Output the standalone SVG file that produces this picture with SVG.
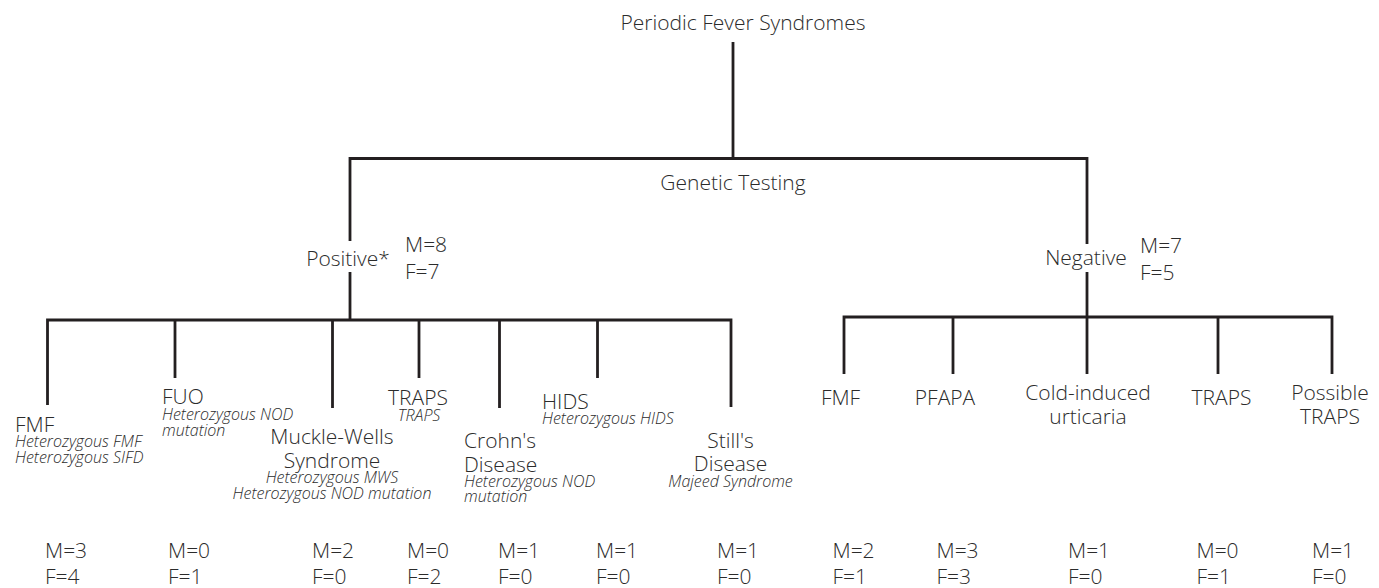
<svg xmlns="http://www.w3.org/2000/svg" width="1379" height="588" viewBox="0 0 1379 588">
<style>
.c{fill:none;stroke:#231f20;stroke-width:2.8;stroke-linejoin:miter}
text{font-family:"Open Sans","Liberation Sans",sans-serif;font-weight:300;fill:#2b2b2b}
.m{font-size:21px}
.i{font-size:16px;font-style:italic}
.mid{text-anchor:middle}
</style>
<rect width="1379" height="588" fill="#ffffff"/>
<g id="connectors">
<path class="c" d="M733 42V158.5"/>
<path class="c" d="M350 241V158.5H1087V244"/>
<path class="c" d="M350 272V320"/>
<path class="c" d="M1087 272V374"/>
<path class="c" d="M47.5 405V320H731V407"/>
<path class="c" d="M175 320V378"/>
<path class="c" d="M332.5 320V408"/>
<path class="c" d="M419 320V378"/>
<path class="c" d="M499.5 320V408"/>
<path class="c" d="M597.5 320V378"/>
<path class="c" d="M844 374V317H1332V374"/>
<path class="c" d="M953 317V374"/>
<path class="c" d="M1218 317V374"/>
</g>
<g id="root"><text class="m mid" x="743" y="30">Periodic Fever Syndromes</text></g>
<g id="genetic-testing"><text class="m mid" x="733" y="190">Genetic Testing</text></g>
<g id="positive">
<text class="m mid" x="348" y="265.5">Positive*</text>
<text class="m" x="405" y="251.5">M=8</text>
<text class="m" x="405" y="279">F=7</text>
</g>
<g id="negative">
<text class="m mid" x="1086" y="265">Negative</text>
<text class="m" x="1140" y="253">M=7</text>
<text class="m" x="1140" y="280">F=5</text>
</g>
<g id="pos-fmf">
<text class="m" x="15" y="431.5">FMF</text>
<text class="i" x="15" y="447">Heterozygous FMF</text>
<text class="i" x="15" y="463">Heterozygous SIFD</text>
<text class="m" x="45" y="558">M=3</text>
<text class="m" x="45" y="584">F=4</text>
</g>
<g id="pos-fuo">
<text class="m" x="162" y="404">FUO</text>
<text class="i" x="162" y="420">Heterozygous NOD</text>
<text class="i" x="162" y="435.5">mutation</text>
<text class="m" x="168" y="558">M=0</text>
<text class="m" x="168" y="584">F=1</text>
</g>
<g id="pos-mws">
<text class="m mid" x="332" y="444">Muckle-Wells</text>
<text class="m mid" x="332" y="467.5">Syndrome</text>
<text class="i mid" x="332" y="483">Heterozygous MWS</text>
<text class="i mid" x="332" y="499">Heterozygous NOD mutation</text>
<text class="m" x="312" y="558">M=2</text>
<text class="m" x="312" y="584">F=0</text>
</g>
<g id="pos-traps">
<text class="m mid" x="418" y="405">TRAPS</text>
<text class="i mid" x="419" y="420.5">TRAPS</text>
<text class="m" x="407" y="558">M=0</text>
<text class="m" x="407" y="584">F=2</text>
</g>
<g id="pos-crohns">
<text class="m" x="464" y="448">Crohn's</text>
<text class="m" x="464" y="471.5">Disease</text>
<text class="i" x="464" y="486.5">Heterozygous NOD</text>
<text class="i" x="464" y="502">mutation</text>
<text class="m" x="498" y="558">M=1</text>
<text class="m" x="498" y="584">F=0</text>
</g>
<g id="pos-hids">
<text class="m" x="542" y="408.5">HIDS</text>
<text class="i" x="542" y="423.5">Heterozygous HIDS</text>
<text class="m" x="596" y="558">M=1</text>
<text class="m" x="596" y="584">F=0</text>
</g>
<g id="pos-stills">
<text class="m mid" x="730.5" y="447.5">Still's</text>
<text class="m mid" x="730.5" y="471">Disease</text>
<text class="i mid" x="730.5" y="486.5">Majeed Syndrome</text>
<text class="m" x="717" y="558">M=1</text>
<text class="m" x="717" y="584">F=0</text>
</g>
<g id="neg-fmf">
<text class="m mid" x="840.5" y="405">FMF</text>
<text class="m" x="832.5" y="558">M=2</text>
<text class="m" x="832.5" y="584">F=1</text>
</g>
<g id="neg-pfapa">
<text class="m mid" x="945" y="405">PFAPA</text>
<text class="m" x="936.5" y="558">M=3</text>
<text class="m" x="936.5" y="584">F=3</text>
</g>
<g id="neg-cold">
<text class="m mid" x="1088" y="400">Cold-induced</text>
<text class="m mid" x="1088" y="423.5">urticaria</text>
<text class="m" x="1068" y="558">M=1</text>
<text class="m" x="1068" y="584">F=0</text>
</g>
<g id="neg-traps">
<text class="m mid" x="1221.5" y="405">TRAPS</text>
<text class="m" x="1196.5" y="558">M=0</text>
<text class="m" x="1196.5" y="584">F=1</text>
</g>
<g id="neg-possible">
<text class="m mid" x="1330" y="400">Possible</text>
<text class="m mid" x="1330" y="423.5">TRAPS</text>
<text class="m" x="1312" y="558">M=1</text>
<text class="m" x="1312" y="584">F=0</text>
</g>
</svg>
